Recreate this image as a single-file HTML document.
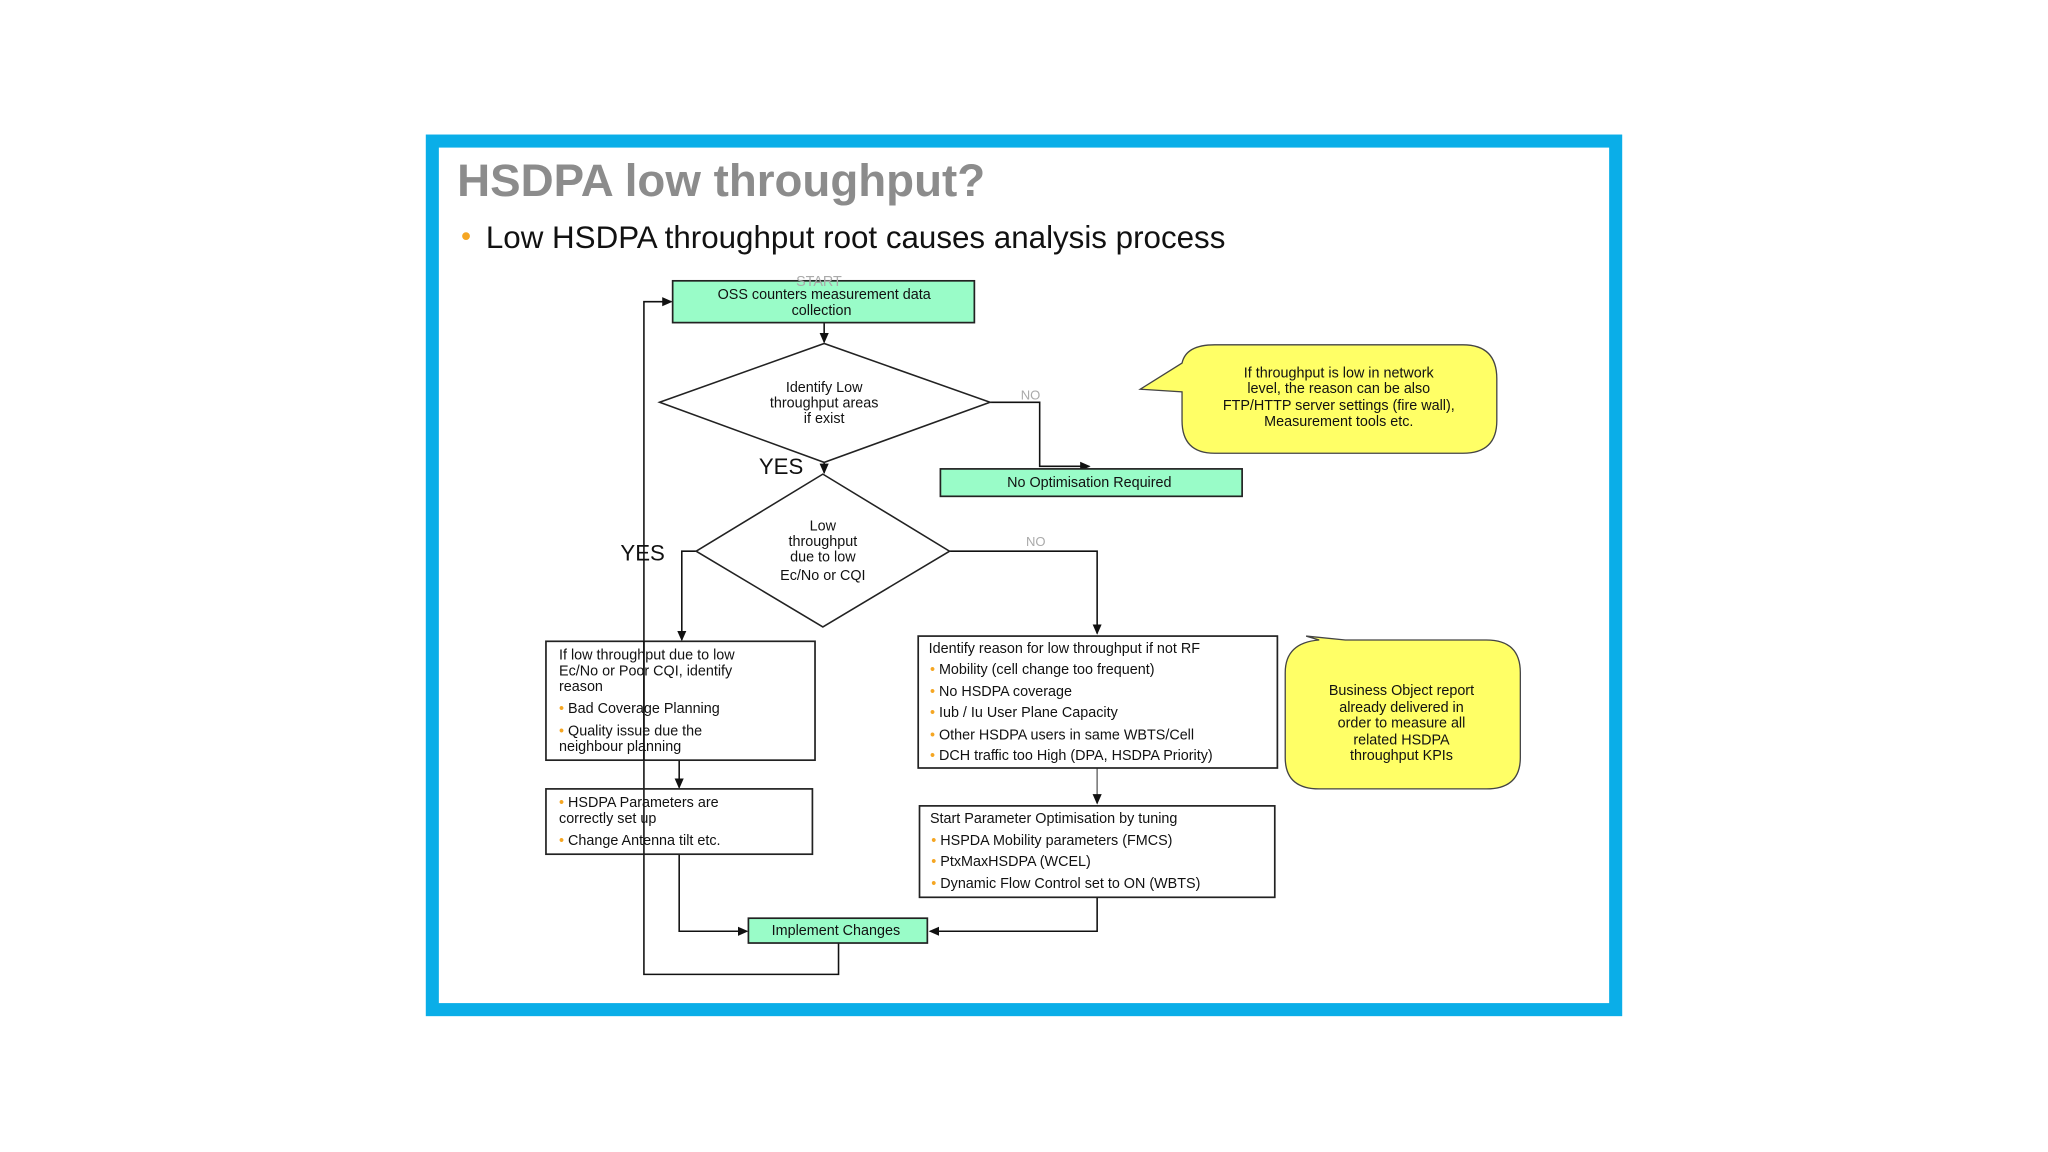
<!DOCTYPE html>
<html><head><meta charset="utf-8"><style>
html,body{margin:0;padding:0;background:#fff;}
svg{display:block;}
text{font-family:"Liberation Sans",sans-serif;}
.s{font-size:11px;fill:#111;}
.c{text-anchor:middle;}
</style></head><body>
<svg width="2048" height="1152" viewBox="0 0 1568 882" preserveAspectRatio="none" xmlns="http://www.w3.org/2000/svg">
<defs><marker id="a" markerWidth="8" markerHeight="8" refX="7" refY="4" orient="auto" markerUnits="userSpaceOnUse"><path d="M0,0.5 L8,4 L0,7.5z" fill="#111"/></marker></defs>
<rect x="0" y="0" width="1568" height="882" fill="#fff"/>
<rect x="331" y="108" width="906" height="665" fill="#fff" stroke="#0aaee8" stroke-width="10"/>
<text x="350" y="150" font-size="35" font-weight="bold" fill="#8c8c8c">HSDPA low throughput?</text>
<text x="353" y="188" font-size="22" fill="#f5a623">•</text>
<text x="372" y="190" font-size="24" fill="#111">Low HSDPA throughput root causes analysis process</text>

<g stroke="#111" stroke-width="1.2" fill="none">
<path d="M631,247 V262" marker-end="url(#a)"/>
<path d="M758,308 H796 V357 H834" marker-end="url(#a)"/>
<path d="M631,354 V362" marker-end="url(#a)"/>
<path d="M533,422 H522 V490" marker-end="url(#a)"/>
<path d="M727,422 H840 V485" marker-end="url(#a)"/>
<path d="M520,582 V603" marker-end="url(#a)"/>
<path d="M520,654 V713 H572" marker-end="url(#a)"/>
<path d="M642,722 V746 H493 V231 H514" marker-end="url(#a)"/>
<path d="M840,588 V615" stroke="#777" marker-end="url(#a)"/>
<path d="M840,687 V713 H712" marker-end="url(#a)"/>
</g>

<rect x="515" y="215" width="231" height="32" fill="#99fcc8" stroke="#222" stroke-width="1.3"/>
<text x="627" y="219" class="s c" fill="#aaa" style="fill:#aaa">START</text>
<text x="631" y="229" class="s c">OSS counters measurement data</text>
<text x="629" y="241" class="s c">collection</text>

<polygon points="505,308 631,263 758,308 631,354" fill="#fff" stroke="#222" stroke-width="1.2"/>
<text x="631" y="300" class="s c">Identify Low</text>
<text x="631" y="312" class="s c">throughput areas</text>
<text x="631" y="324" class="s c">if exist</text>
<text x="789" y="306" font-size="10" fill="#aaa" class="c">NO</text>

<rect x="720" y="359" width="231" height="21" fill="#99fcc8" stroke="#222" stroke-width="1.3"/>
<text x="834" y="373" class="s c">No Optimisation Required</text>
<text x="581" y="363" font-size="17" fill="#111">YES</text>

<polygon points="533,422 630,363 727,422 630,480" fill="#fff" stroke="#222" stroke-width="1.2"/>
<text x="630" y="406" class="s c">Low</text>
<text x="630" y="418" class="s c">throughput</text>
<text x="630" y="430" class="s c">due to low</text>
<text x="630" y="444" class="s c">Ec/No or CQI</text>
<text x="475" y="429" font-size="17" fill="#111">YES</text>
<text x="793" y="418" font-size="10" fill="#aaa" class="c">NO</text>

<rect x="418" y="491" width="206" height="91" fill="none" stroke="#222" stroke-width="1.3"/>
<g class="s">
<text x="428" y="505" class="s">If low throughput due to low</text>
<text x="428" y="517" class="s">Ec/No or Poor CQI, identify</text>
<text x="428" y="529" class="s">reason</text>
<text x="428" y="546" class="s"><tspan fill="#f5a623">•</tspan> Bad Coverage Planning</text>
<text x="428" y="563" class="s"><tspan fill="#f5a623">•</tspan> Quality issue due the</text>
<text x="428" y="575" class="s">neighbour planning</text>
</g>
<line x1="493" y1="491" x2="493" y2="582" stroke="#111" stroke-width="1.2"/>

<rect x="418" y="604" width="204" height="50" fill="none" stroke="#222" stroke-width="1.3"/>
<text x="428" y="618" class="s"><tspan fill="#f5a623">•</tspan> HSDPA Parameters are</text>
<text x="428" y="630" class="s">correctly set up</text>
<text x="428" y="647" class="s"><tspan fill="#f5a623">•</tspan> Change Antenna tilt etc.</text>

<rect x="573" y="703" width="137" height="19" fill="#99fcc8" stroke="#222" stroke-width="1.3"/>
<text x="640" y="716" class="s c">Implement Changes</text>

<rect x="703" y="487" width="275" height="101" fill="#fff" stroke="#222" stroke-width="1.3"/>
<text x="711" y="500" class="s">Identify reason for low throughput if not RF</text>
<text x="712" y="516" class="s"><tspan fill="#f5a623">•</tspan> Mobility (cell change too frequent)</text>
<text x="712" y="533" class="s"><tspan fill="#f5a623">•</tspan> No HSDPA coverage</text>
<text x="712" y="549" class="s"><tspan fill="#f5a623">•</tspan> Iub / Iu User Plane Capacity</text>
<text x="712" y="566" class="s"><tspan fill="#f5a623">•</tspan> Other HSDPA users in same WBTS/Cell</text>
<text x="712" y="582" class="s"><tspan fill="#f5a623">•</tspan> DCH traffic too High (DPA, HSDPA Priority)</text>

<rect x="704" y="617" width="272" height="70" fill="#fff" stroke="#222" stroke-width="1.3"/>
<text x="712" y="630" class="s">Start Parameter Optimisation by tuning</text>
<text x="713" y="647" class="s"><tspan fill="#f5a623">•</tspan> HSPDA Mobility parameters (FMCS)</text>
<text x="713" y="663" class="s"><tspan fill="#f5a623">•</tspan> PtxMaxHSDPA (WCEL)</text>
<text x="713" y="680" class="s"><tspan fill="#f5a623">•</tspan> Dynamic Flow Control set to ON (WBTS)</text>

<path d="M930,264 H1120 Q1146,264 1146,290 V322 Q1146,347 1120,347 H930 Q905,347 905,322 V300 L873,298 L905,278 Q908,264 930,264z" fill="#ffff66" stroke="#444" stroke-width="1"/>
<text x="1025" y="289" class="s c">If throughput is low in network</text>
<text x="1025" y="301" class="s c">level, the reason can be also</text>
<text x="1025" y="314" class="s c">FTP/HTTP server settings (fire wall),</text>
<text x="1025" y="326" class="s c">Measurement tools etc.</text>

<path d="M1030,490 H1138 Q1164,490 1164,515 V580 Q1164,604 1138,604 H1010 Q984,604 984,580 V515 Q984,492 1010,490 L1000,487z" fill="#ffff66" stroke="#444" stroke-width="1"/>
<text x="1073" y="532" class="s c">Business Object report</text>
<text x="1073" y="545" class="s c">already delivered in</text>
<text x="1073" y="557" class="s c">order to measure all</text>
<text x="1073" y="570" class="s c">related HSDPA</text>
<text x="1073" y="582" class="s c">throughput KPIs</text>
</svg>
</body></html>
